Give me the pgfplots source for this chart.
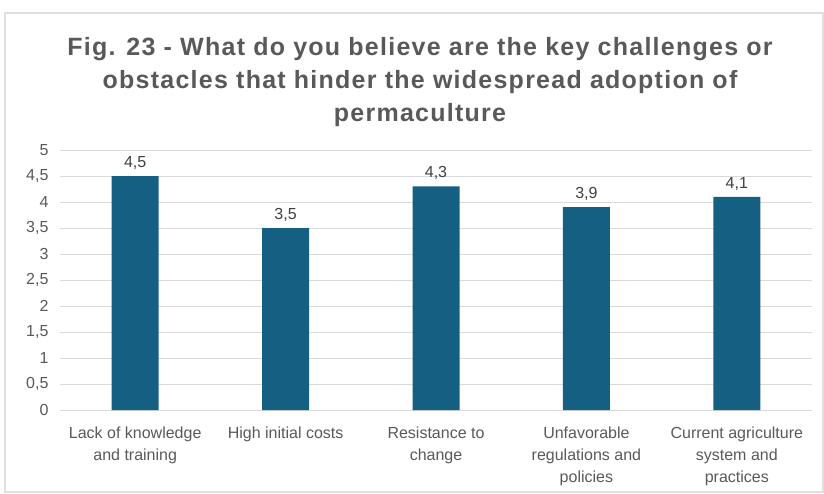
\documentclass[border=0pt]{standalone}
\usepackage{fontspec}
\setmainfont{Liberation Sans}
\newfontfamily\titlefont[LetterSpace=5]{Liberation Sans}
\usepackage{pgfplots}
\pgfplotsset{compat=1.18}
\definecolor{barblue}{HTML}{156082}
\definecolor{txtgray}{HTML}{595959}
\definecolor{lblgray}{HTML}{404040}
\definecolor{gridgray}{HTML}{D9D9D9}
\begin{document}
\begin{tikzpicture}[x=1pt,y=1pt]
\useasboundingbox (0,0) rectangle (824,493);
\draw[gray!25, line width=1.2pt] (5,1) rectangle (823,480);
\node[font=\titlefont\bfseries\fontsize{25}{33}\selectfont, text=txtgray, align=center] at (420,411)
  {Fig. 23 - What do you believe are the key challenges or\\obstacles that hinder the widespread adoption of\\permaculture};
\begin{axis}[
  at={(60pt,83pt)}, anchor=south west,
  scale only axis, width=752pt, height=260pt,
  xmin=-0.5, xmax=4.5, ymin=0, ymax=5,
  ytick={0,0.5,...,5},
  xtick={0,1,2,3,4},
  xticklabels={{Lack of knowledge\\and training},{High initial costs},{Resistance to\\change},{Unfavorable\\regulations and\\policies},{Current agriculture\\system and\\practices}},
  ymajorgrids,
  grid style={gridgray, line width=0.9pt},
  axis line style={draw=none},
  major tick length=0pt,
  /pgf/number format/use comma,
  /pgf/number format/assume math mode=true,
  yticklabel style={font=\fontsize{16}{18}\selectfont, text=txtgray, xshift=-8pt},
  xticklabel style={font=\fontsize{16}{22}\selectfont, text=txtgray, align=center, yshift=-13pt},
  ybar, bar width=47pt,
  nodes near coords,
  nodes near coords style={font=\fontsize{16}{18}\selectfont, text=lblgray, /pgf/number format/fixed, /pgf/number format/precision=1, /pgf/number format/use comma, /pgf/number format/assume math mode=true, yshift=3pt},
]
\addplot[draw=none, fill=barblue] coordinates {(0,4.5) (1,3.5) (2,4.3) (3,3.9) (4,4.1)};
\end{axis}
\end{tikzpicture}
\end{document}
